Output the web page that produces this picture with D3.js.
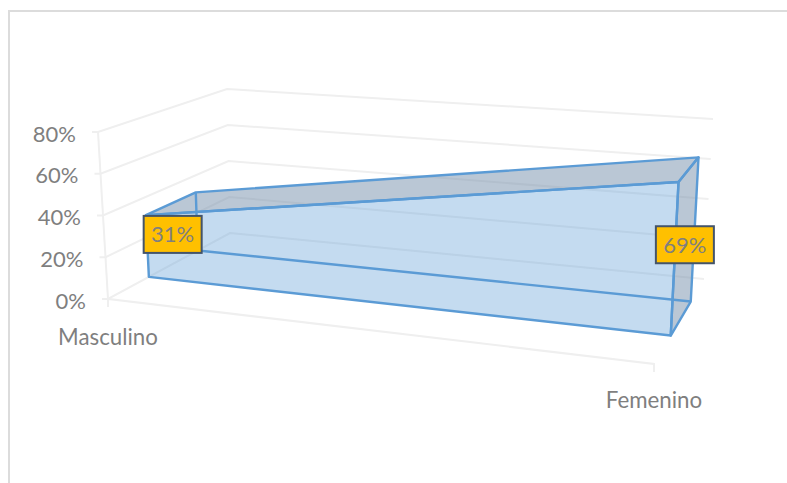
<!DOCTYPE html>
<html>
<head>
<meta charset="utf-8">
<script src="https://cdn.jsdelivr.net/npm/d3@7/dist/d3.min.js"></script>
<style>
html,body{margin:0;padding:0;background:#fff;overflow:hidden}
text{font-family:Lato,"Open Sans",sans-serif;fill:#7f7f7f}
</style>
</head>
<body>
<svg id="c" width="787" height="483"></svg>
<script>
const categories = ["Masculino", "Femenino"];
const values = [0.31, 0.69];
const yTicks = [0, 0.2, 0.4, 0.6, 0.8];

// scales: category, value and depth into unit cube
const u = d3.scalePoint().domain(categories).range([0, 1]);
const v = d3.scaleLinear().domain([0, 0.8]).range([0, 1]);
const pctFmt = d3.format(".0%");

// Projected box corners (plot frame of the 3-D scene): [u][v][depth]
const box = {
  b: {f: [[108, 299], [654, 364]], k: [[230, 233], [704, 279]]},
  t: {f: [[98, 132], [663, 177]], k: [[227, 89], [713, 119]]}
};
const mix = d3.interpolateNumber;
const lerp = (a, b, t) => [mix(a[0], b[0])(t), mix(a[1], b[1])(t)];
function project(ut, vt, dt) {
  const bot = lerp(lerp(box.b.f[0], box.b.k[0], dt), lerp(box.b.f[1], box.b.k[1], dt), ut);
  const top = lerp(lerp(box.t.f[0], box.t.k[0], dt), lerp(box.t.f[1], box.t.k[1], dt), ut);
  return lerp(bot, top, vt);
}

const svg = d3.select("#c");
const line = d3.line();
const gridC = "#efefef", blue = "#5b9bd5";

// chart frame (cropped on right and bottom)
svg.append("path").attr("d", "M9,483V11H787").attr("fill", "none")
  .attr("stroke", "#dcdcdc").attr("stroke-width", 2);

// grid lines: front-left wall to back-left to back-right
const grid = svg.append("g").attr("fill", "none").attr("stroke", gridC).attr("stroke-width", 2);
grid.selectAll("path.g").data(yTicks).join("path").attr("class", "g")
  .attr("d", t => line([[project(0, v(t), 0)[0] - 6, project(0, v(t), 0)[1]], project(0, v(t), 0), project(0, v(t), 1), project(1, v(t), 1)]));
// vertical value axis
grid.append("path").attr("d", line([project(0, v(0.8), 0), project(0, 0, 0)]));
// floor front edge with end ticks
grid.append("path").attr("d", () => {
  const a = project(0, 0, 0), b = project(1, 0, 0);
  return line([[a[0], a[1] + 8], a, b, [b[0], b[1] + 8]]);
});

// 3-D area solid
const dF = 0.335, dB = 0.735, dM = 0.54;
const P = (i, val, d) => project(u(categories[i]), v(val), d);
const solid = svg.append("g").attr("stroke-linejoin", "round");
const greyFill = "rgb(118,143,172)";
const faces = [
  {pts: [P(0, values[0], dF), P(0, values[0], dB), P(1, values[1], dB), P(1, values[1], dF)], fill: greyFill, op: 0.5},
  {pts: [P(1, values[1], dF), P(1, values[1], dB), P(1, 0, dB), P(1, 0, dF)], fill: greyFill, op: 0.5},
  {pts: [P(0, values[0], dF), P(1, values[1], dF), P(1, 0, dF), P(0, 0, dF)], fill: blue, op: 0.36}
];
solid.selectAll("path.face").data(faces).join("path").attr("class", "face")
  .attr("d", f => line(f.pts) + "Z").attr("fill", f => f.fill).attr("fill-opacity", f => f.op)
  .attr("stroke", blue).attr("stroke-width", 2.4);
// hidden back edges
solid.append("path").attr("fill", "none").attr("stroke", blue).attr("stroke-width", 2.4)
  .attr("d", line([P(0, values[0], dB), P(0, 0, dB), P(1, 0, dB)]));

// value axis labels
svg.append("g").selectAll("text").data(yTicks).join("text")
  .attr("x", t => project(0, v(t), 0)[0] - 22)
  .attr("y", t => project(0, v(t), 0)[1] + 9.5)
  .attr("text-anchor", "end").attr("font-size", 22)
  .text(pctFmt);

// category labels
svg.append("g").selectAll("text").data(categories).join("text")
  .attr("x", d => project(u(d), 0, 0)[0])
  .attr("y", d => project(u(d), 0, 0)[1] + (u(d) ? 44 : 46))
  .attr("text-anchor", "middle").attr("font-size", 22.3)
  .text(d => d);

// data labels
const lab = svg.append("g").selectAll("g").data(categories).join("g")
  .attr("transform", (d, i) => {
    const p = P(i, values[i] / 2, dM);
    return `translate(${p[0]},${p[1] + 1})`;
  });
lab.append("rect").attr("x", -29).attr("y", -18.5).attr("width", 58).attr("height", 37)
  .attr("fill", "#ffc000").attr("stroke", "#44546a").attr("stroke-width", 2);
lab.append("text").attr("text-anchor", "middle").attr("y", 8).attr("font-size", 22)
  .text((d, i) => pctFmt(values[i]));
</script>
</body>
</html>
